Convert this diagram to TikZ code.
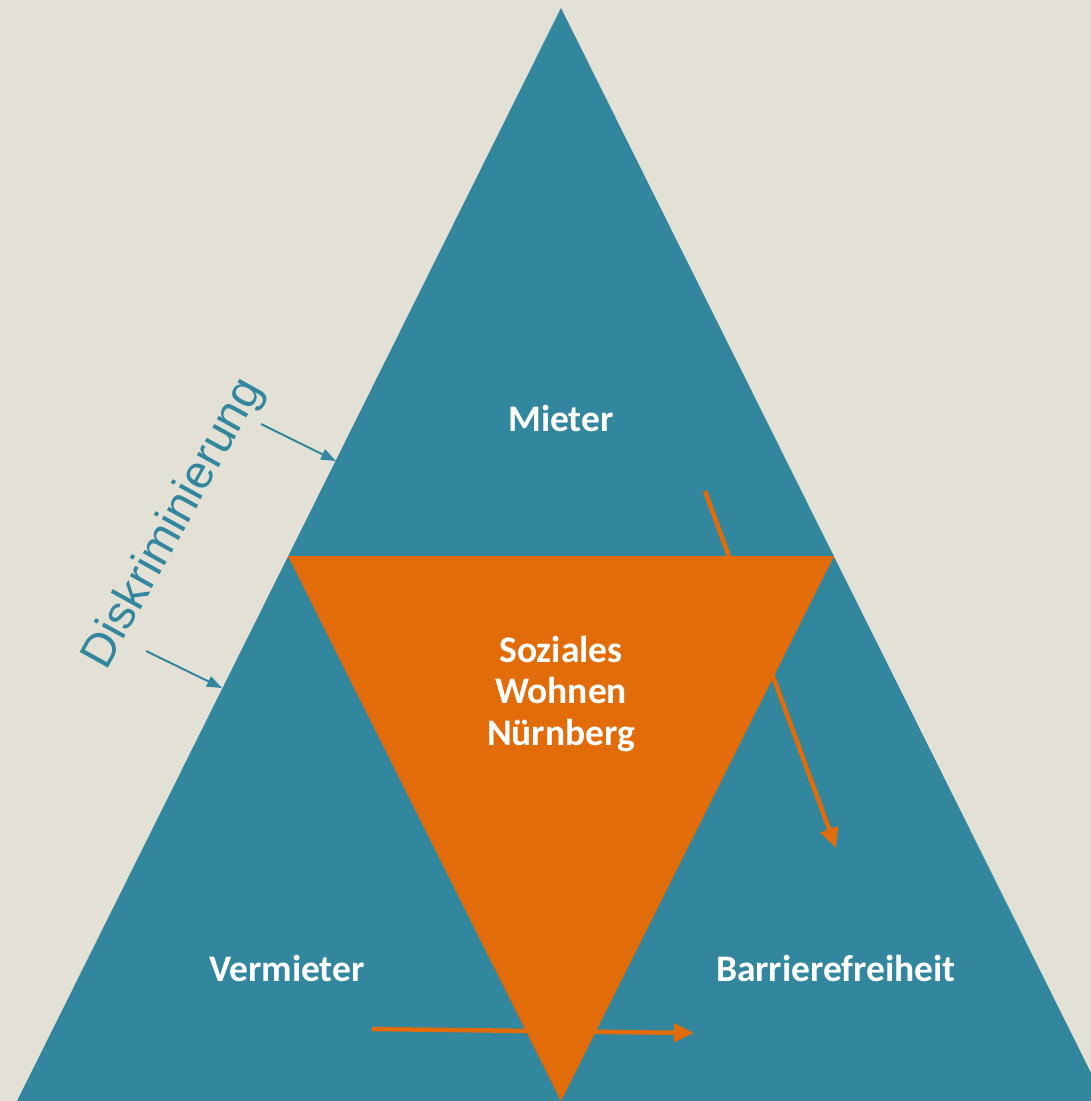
\documentclass[tikz,border=0pt]{standalone}
\usepackage{fontspec}
\setmainfont{Carlito}
\newfontfamily\diskfont{Liberation Sans}
\usetikzlibrary{arrows.meta}
\definecolor{bgbeige}{RGB}{227,225,214}
\definecolor{petrol}{RGB}{50,134,157}
\definecolor{rust}{RGB}{227,108,10}

\begin{document}
\begin{tikzpicture}[x=1pt,y=-1pt,
    corner/.style={text=white,font=\fontsize{37.5}{41.5}\selectfont\bfseries,align=center},
    rustarrow/.style={rust,line width=4.5pt,-{Triangle[length=20pt,width=18pt]}},
    petrolarrow/.style={petrol,line width=2pt,-{Triangle[length=15pt,width=11pt]}}]
                    \fill[bgbeige] (0,0) rectangle (1091,1101);
                    \useasboundingbox (0,0) rectangle (1091,1101);
                    % outer triangle and inner one
                    \coordinate (top) at (561,8);
                    \coordinate (botL) at (17,1101);
                    \coordinate (botR) at (1105,1101);
                    \coordinate (midL) at (288,556);
                    \coordinate (midR) at (834,556);
                    \coordinate (botM) at (561,1101);
                    \fill[petrol] (top)--(botL)--(botR)--cycle;
                    % arrows
                    \coordinate (mstart) at (705,491);
                    \coordinate (mend) at (836,848);
                    \coordinate (vstart) at (372,1029);
                    \coordinate (vend) at (694,1033);
                    \draw[rustarrow] (mstart)--(mend);
                    \draw[rustarrow] (vstart)--(vend);
                    \fill[rust] (midL)--(midR)--(botM)--cycle;
                    \node[corner] (mieter) at (561,418) {Mieter};
                    \node[corner] (swn) at (561,694) {Soziales\\Wohnen\\Nürnberg};
                    \node[corner] (vermieter) at (287,968) {Vermieter};
                    \node[corner] (barriere) at (836,968) {Barrierefreiheit};
                    \node[petrol,font=\diskfont\fontsize{47}{56}\selectfont,rotate=61] (disk) at (174,524) {Diskriminierung};
                    \coordinate (d1start) at (261,424);
                    \coordinate (d1end) at (336,461);
                    \coordinate (d2start) at (146,651);
                    \coordinate (d2end) at (222,688);
                    \draw[petrolarrow] (d1start)--(d1end);
                    \draw[petrolarrow] (d2start)--(d2end);
                \end{tikzpicture}
\end{document}
